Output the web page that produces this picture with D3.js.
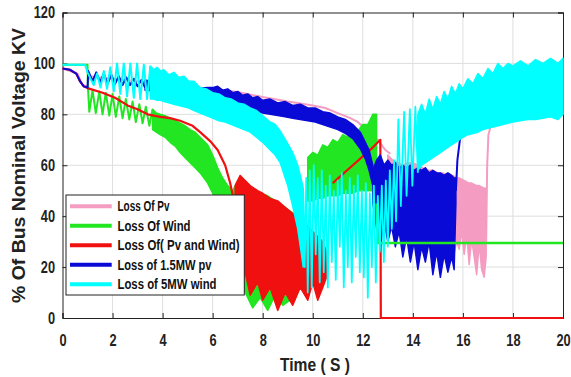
<!DOCTYPE html>
<html><head><meta charset="utf-8">
<script src="https://cdn.jsdelivr.net/npm/d3@7"></script>
<style>body{margin:0;background:#fff}svg{display:block}</style>
</head><body><svg id="c" width="571" height="377"></svg>
<script>
// ---------- data ----------
const xTicks = [0,2,4,6,8,10,12,14,16,18,20];
const yTicks = [0,20,40,60,80,100,120];
const legendNames = ["Loss Of Pv","Loss Of Wind","Loss Of( Pv and Wind)","Loss of 1.5MW pv","Loss of 5MW wind"];
const xLabel = "Time ( S )";
const yLabel = "% Of Bus Nominal Voltage KV";

// Loss Of Pv  [t, v] and bands [t, low, high]
const pvLine1 = [[0,98],[0.6,96],[0.8,91.5],[1.0,91],[1.05,95],[2,94],[3,93],[4,92],[5,91],[6,90],[7,88.8],[8,86.8],[9,85],[10,83.5],[10.5,82.5],[11,80.5],[11.5,78.5],[11.8,77],[12.2,73.5],[12.6,70],[12.9,66],[13.1,64.5]];
const pvBand = [[13.0,50,64],[13.2,38,62],[13.4,44,61],[13.6,30,60],[13.8,40,61],[14.0,27,61],[14.2,36,60],[14.4,26,59],[14.6,33,58],[14.8,24,58],[15.0,31,57],[15.2,22,57],[15.4,30,56],[15.6,23,56],[15.75,30,55],[15.85,27,55],[15.95,34,54.5],[16.05,25,54],[16.15,33,53.5],[16.25,21,53],[16.35,31,53],[16.45,24,52.5],[16.55,17,52],[16.65,29,52],[16.75,19,51.5],[16.85,16,51],[16.93,24,51]];
const pvLine2 = [[16.93,30],[16.97,60],[17.02,72],[17.1,75],[17.3,77],[18,79],[19,81],[20,82]];

// Loss Of Wind
const windLine1 = [[0,99.5],[1.0,99.5],[1.02,90],[1.07,81],[1.2,89.5],[1.33,80.5],[1.47,89],[1.6,80],[1.73,88.5],[1.87,79.5],[2.0,88],[2.13,79],[2.27,87],[2.4,78.5],[2.53,86],[2.67,78],[2.8,85],[2.93,77],[3.07,84],[3.2,76.5],[3.33,83],[3.47,75.5],[3.6,82]];
const windBand1 = [[3.6,74,82],[3.75,73,80.5],[3.9,72,80],[4.1,71,79.5],[4.3,69,78.5],[4.5,67.5,77.5],[4.7,65,76.5],[4.9,63,75.5],[5.1,61,74],[5.3,59,73],[5.5,57,71],[5.8,53,68],[6.0,49,64],[6.2,44,59],[6.4,36,55],[6.6,28,52],[6.8,20,50],[7.0,14,54],[7.3,10,53],[7.6,4,51],[7.9,8,49],[8.2,3,48],[8.5,9,46],[8.8,5,44],[9.1,7,42],[9.4,12,40],[9.7,16,36],[10.0,18,30],[10.2,22,28]];
const windBand2 = [[9.8,46,63],[10.0,46,65],[10.2,47,64],[10.4,47,68],[10.6,48,67],[10.8,48,70],[11.0,48,69],[11.2,49,72],[11.4,49,71],[11.6,49,74],[11.8,50,73.5],[12.0,50,76],[12.2,50,76],[12.4,50,80],[12.55,45,80]];
const windLine2 = [[12.55,45],[12.6,29.5],[20,29.5]];

// Loss Of( Pv and Wind)
const pvWindLine1 = [[0,98],[0.3,97.5],[0.55,96],[0.7,93],[0.85,91],[1.0,90.3],[1.6,88.5],[2.1,86.5],[2.6,83.5],[3.0,82],[3.4,80],[3.9,79],[4.3,78.5],[4.7,77.5],[5.2,75.5],[5.5,73],[5.9,69.5],[6.2,66],[6.5,60],[6.7,53],[6.85,46],[6.95,38]];
const pvWindBand = [[6.9,35,52],[7.1,12,56],[7.3,18,54],[7.5,9,52],[7.8,14,50],[8.0,7,49],[8.3,12,47],[8.6,3,46],[8.9,10,43.5],[9.2,5,41],[9.5,12,39],[9.8,7,36],[10.0,14,34],[10.2,7,32],[10.4,12,30],[10.55,16,26]];
const pvWindLine2 = [[10.8,53],[11.2,56.5],[11.6,60],[12.0,63.5],[12.4,67],[12.7,70],[12.72,0],[20,0]];

// Loss of 1.5MW pv
const pv15Line1 = [[0,98],[0.3,97.5],[0.55,96],[0.7,93],[0.85,91],[1.0,90.5],[1.03,97],[1.2,93],[1.35,96.5],[1.5,92.5],[1.65,96],[1.8,92],[1.95,95.5],[2.1,92],[2.25,95],[2.4,91.5],[2.55,94.5],[2.7,91.5],[2.85,94],[3.0,91],[3.15,93.5],[3.3,90.5]];
const pv15Band1 = [[3.3,89.5,93.5],[4,89,92],[5,88.5,91],[5.5,88,90.2],[5.8,87,90.5],[6.0,86.5,90.5],[6.2,86,91],[6.4,85.5,89.5],[6.6,84.5,90],[6.8,84,88.5],[7.0,83,89],[7.2,82.5,87.5],[7.4,82,88],[7.6,81.5,86.5],[7.8,81,87],[8.0,80.5,85.5],[8.3,80,86],[8.6,79.5,84.5],[8.9,79,85],[9.2,78.5,83.5],[9.5,78,84],[9.8,77.5,82.5],[10.1,77,82.5],[10.4,76,81],[10.7,75,80.5],[11.0,74,79],[11.3,72.5,78],[11.6,70.5,76],[11.9,66.5,73],[12.1,62.5,69],[12.25,58,66],[12.4,52,60]];
const pv15Band2 = [[12.4,45,58],[12.55,35,62],[12.7,28,64],[12.85,38,60],[13.0,30,62],[13.15,36,60],[13.3,28,61],[13.45,34,59],[13.6,24,60],[13.75,32,59],[13.9,22,60],[14.05,30,58],[14.2,19,59],[14.35,28,58],[14.5,22,59],[14.65,30,57],[14.8,17,58],[14.95,26,57],[15.1,16,57],[15.25,25,56],[15.4,18,57],[15.55,24,56],[15.65,19,55],[15.72,45,55]];
const pv15Line2 = [[15.72,50],[15.78,62],[15.88,70],[16.0,74],[16.2,77],[17,80],[18,82],[20,84]];

// Loss of 5MW wind
const wind5Line1 = [[0,99.5],[0.9,99.5],[1.0,96.5],[1.12,94],[1.25,91.5],[1.38,96],[1.52,90.5],[1.65,97],[1.78,90],[1.91,98.5],[2.05,89],[2.18,100],[2.31,88],[2.45,100],[2.58,87],[2.71,100],[2.85,86.5],[2.98,100],[3.11,86],[3.25,99.5],[3.38,86],[3.51,99]];
const wind5Band1 = [[3.51,86,99],[3.65,86,97.5],[3.78,85.5,98.5],[3.92,85.5,97],[4.05,85,97.5],[4.25,84.5,95.5],[4.45,84,96.5],[4.65,83.5,94.5],[4.85,83,95],[5.05,82.5,93],[5.25,81.5,93],[5.5,80.5,90.5],[5.75,79.5,90],[6.0,78.5,88.5],[6.25,77.5,88],[6.5,77,86.5],[6.75,76,86],[7.0,75,84.5],[7.25,74,84],[7.5,73,82.5],[7.75,71,81.5],[8.0,69,79.5],[8.3,66,77],[8.5,64,76],[8.7,61,73.5],[9.0,52,68.5],[9.2,44,65],[9.4,35,60],[9.55,25,54],[9.62,20,51]];
const wind5Spikes = [[9.62,50],[9.68,20],[9.74,55],[9.8,10],[9.88,58],[9.96,12],[10.04,60],[10.12,25],[10.2,55],[10.28,14],[10.36,58],[10.44,18],[10.52,52],[10.6,12],[10.68,56],[10.76,22],[10.84,50],[10.92,15],[11.0,54],[11.08,28],[11.16,57],[11.24,12],[11.32,50],[11.4,20],[11.48,55],[11.56,14],[11.64,52],[11.72,24],[11.8,56],[11.88,18],[11.96,50],[12.04,16],[12.12,53],[12.2,8],[12.28,49],[12.36,20],[12.44,52],[12.52,14],[12.6,48],[12.68,26],[12.76,52],[12.84,22],[12.92,54],[13.0,28],[13.08,58],[13.16,35],[13.25,62],[13.33,38],[13.42,78],[13.52,44],[13.65,81],[13.75,48],[13.88,82],[13.98,52],[14.1,83],[14.2,57]];
const wind5Band3 = [[14.2,58,80],[14.35,60,84],[14.5,61,80],[14.65,62,86],[14.8,63,82],[14.95,64,87],[15.1,65,84],[15.25,66,89],[15.4,67,86],[15.55,68,91],[15.7,69,88],[15.85,70,92],[16.0,71,90],[16.2,72,94],[16.4,72.5,92],[16.6,73,96],[16.8,74,94],[17.0,74.5,98],[17.2,75,96],[17.4,75.5,100],[17.6,76,98],[17.8,76.5,100],[18.0,77,99],[18.3,77.5,101],[18.6,78,99],[18.9,78,101.5],[19.2,78.5,100],[19.5,79,102],[19.8,78,100],[20,80,102]];

// ---------- style ----------
const colors = {pv:"#f59cc2", wind:"#22e622", pvWind:"#f01010", pv15:"#0a0ad6", wind5:"#00ffff"};
const legendColors = [colors.pv, colors.wind, colors.pvWind, colors.pv15, colors.wind5];
const FONT = "'Liberation Sans', Arial, sans-serif";

// ---------- chart ----------
const svg = d3.select("#c");
const x = d3.scaleLinear().domain([0,20]).range([62.5,563]);
const y = d3.scaleLinear().domain([0,120]).range([318,12.5]);

// grid
const grid = svg.append("g").attr("stroke","#dedede").attr("stroke-width",1);
grid.selectAll("line.gx").data(xTicks.slice(1,-1)).join("line")
  .attr("x1",d=>x(d)).attr("x2",d=>x(d)).attr("y1",y(0)).attr("y2",y(120));
grid.selectAll("line.gy").data(yTicks.slice(1,-1)).join("line")
  .attr("x1",x(0)).attr("x2",x(20)).attr("y1",d=>y(d)).attr("y2",d=>y(d));

// axes
const axCol = "#222";
const gB = svg.append("g").attr("transform",`translate(0,${y(0)})`)
  .call(d3.axisBottom(x).tickValues(xTicks).tickSize(-5).tickPadding(16.5));
const gT = svg.append("g").attr("transform",`translate(0,${y(120)})`)
  .call(d3.axisTop(x).tickValues(xTicks).tickSize(-5).tickFormat(""));
const gL = svg.append("g").attr("transform",`translate(${x(0)},0)`)
  .call(d3.axisLeft(y).tickValues(yTicks).tickSize(-5).tickPadding(7.5));
const gR = svg.append("g").attr("transform",`translate(${x(20)},0)`)
  .call(d3.axisRight(y).tickValues(yTicks).tickSize(-5).tickFormat(""));
[gB,gT,gL,gR].forEach(g=>{ g.attr("color",axCol); g.selectAll("path,line").attr("stroke-width",1); });
const sx = 0.8;
gB.selectAll("text").attr("font-family",FONT).attr("font-size",16).attr("font-weight","bold").attr("fill","#222")
  .attr("transform",`scale(${sx},1)`);
gL.selectAll("text").attr("font-family",FONT).attr("font-size",16).attr("font-weight","bold").attr("fill","#222")
  .attr("x",-7.5/sx).attr("transform",`scale(${sx},1)`);

// axis labels
svg.append("text").attr("x",315).attr("y",371).attr("text-anchor","middle")
  .attr("font-family",FONT).attr("font-size",18).attr("font-weight","bold").attr("fill","#222")
  .attr("textLength",70).attr("lengthAdjust","spacingAndGlyphs").text(xLabel);
svg.append("text").attr("transform","translate(25,165.5) rotate(-90)").attr("text-anchor","middle")
  .attr("font-family",FONT).attr("font-size",18).attr("font-weight","bold").attr("fill","#222")
  .attr("textLength",275).attr("lengthAdjust","spacingAndGlyphs").text(yLabel);

// series
const plot = svg.append("g");
const lineGen = d3.line().x(d=>x(d[0])).y(d=>y(d[1]));
const areaGen = d3.area().x(d=>x(d[0])).y0(d=>y(d[1])).y1(d=>y(d[2]));
function drawLine(data,color,w){
  plot.append("path").datum(data).attr("d",lineGen).attr("fill","none")
    .attr("stroke",color).attr("stroke-width",w||2).attr("stroke-linejoin","round");
}
function drawBand(data,color){
  plot.append("path").datum(data).attr("d",areaGen).attr("fill",color)
    .attr("stroke",color).attr("stroke-width",1.5).attr("stroke-linejoin","round");
}
drawLine(pvLine1,colors.pv); drawBand(pvBand,colors.pv); drawLine(pvLine2,colors.pv);
drawLine(windLine1,colors.wind); drawBand(windBand1,colors.wind); drawBand(windBand2,colors.wind);
drawLine(pvWindLine1,colors.pvWind,2.2); drawBand(pvWindBand,colors.pvWind); drawLine(pvWindLine2,colors.pvWind,2.2);
drawLine(pv15Line1,colors.pv15); drawBand(pv15Band1,colors.pv15); drawBand(pv15Band2,colors.pv15); drawLine(pv15Line2,colors.pv15);
drawLine(windLine2,colors.wind,2.5);
drawLine(wind5Line1,colors.wind5); drawBand(wind5Band1,colors.wind5); drawLine(wind5Spikes,colors.wind5,1.8); drawBand(wind5Band3,colors.wind5);

// legend
const leg = svg.append("g");
leg.append("rect").attr("x",66).attr("y",195).attr("width",178.3).attr("height",100)
  .attr("fill","#fff").attr("stroke","#222").attr("stroke-width",1);
const legWidths = [52,73,122,94,99];
const rowY = d3.scaleBand().domain(legendNames).range([196.5,294]);
legendNames.forEach((n,i)=>{
  const cy = rowY(n) + rowY.bandwidth()/2;
  leg.append("line").attr("x1",70).attr("x2",111.7).attr("y1",cy).attr("y2",cy)
    .attr("stroke",legendColors[i]).attr("stroke-width",4);
  leg.append("text").attr("x",117.5).attr("y",cy+5).attr("font-family",FONT).attr("font-size",14)
    .attr("font-weight","bold").attr("fill","#111")
    .attr("textLength",legWidths[i]).attr("lengthAdjust","spacingAndGlyphs").text(n);
});
</script></body></html>
